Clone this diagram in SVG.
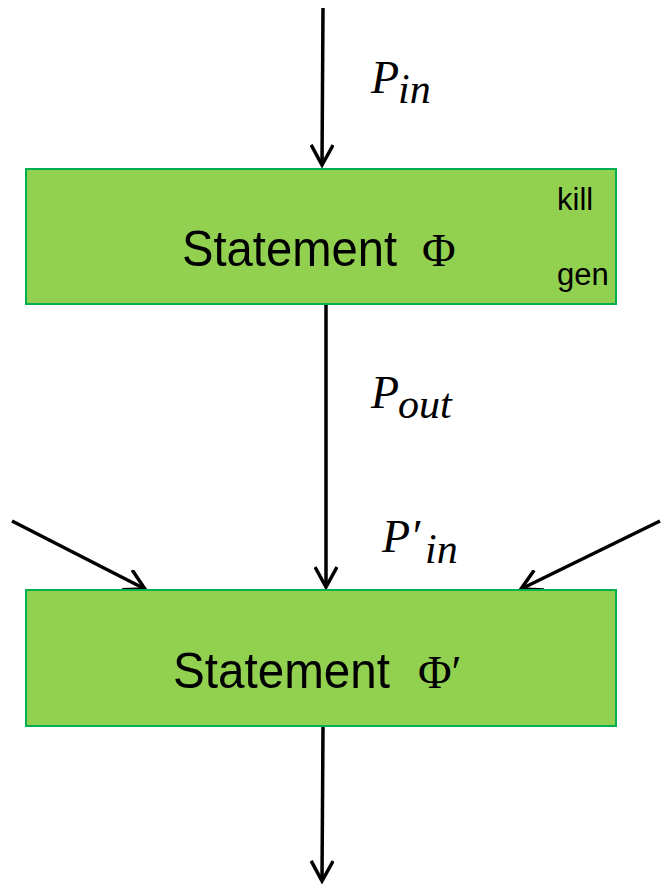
<svg xmlns="http://www.w3.org/2000/svg" width="662" height="885" viewBox="0 0 662 885">
<style>
.box{fill:#92D050;stroke:#00B050;stroke-width:2}
.main{font-family:"Liberation Sans",Arial,sans-serif;font-size:50px;fill:#000}
.phi{font-family:"Liberation Serif","Times New Roman",serif;font-size:46px;fill:#000}
.small{font-family:"Liberation Sans",Arial,sans-serif;font-size:31px;fill:#000}
.math{font-family:"Liberation Serif","Times New Roman",serif;font-style:italic;font-size:46px;fill:#000}
.sub{font-size:42px}
.conn{stroke:#000;stroke-width:3.5;fill:none}
</style>
<defs>
<marker id="arr" viewBox="0 0 24 24" refX="21" refY="12" markerWidth="24" markerHeight="24" markerUnits="userSpaceOnUse" orient="auto">
<path d="M1,1 L21,12 L1,23" fill="none" stroke="#000" stroke-width="3.5" stroke-linejoin="miter"/>
</marker>
</defs>
<g id="connectors">
<line class="conn" x1="323" y1="8" x2="322" y2="165" marker-end="url(#arr)"/>
<line class="conn" x1="326" y1="305" x2="326" y2="587" marker-end="url(#arr)"/>
<line class="conn" x1="12" y1="521" x2="145" y2="589" marker-end="url(#arr)"/>
<line class="conn" x1="660" y1="521" x2="521" y2="589" marker-end="url(#arr)"/>
<line class="conn" x1="323" y1="727" x2="322" y2="881" marker-end="url(#arr)"/>
</g>
<g id="node1">
<rect class="box" x="26" y="169" width="590" height="135"/>
<text class="main" x="182" y="266" textLength="215" lengthAdjust="spacingAndGlyphs">Statement</text>
<text class="phi" x="422" y="266">Φ</text>
<text class="small" x="557" y="210">kill</text>
<text class="small" x="557" y="285">gen</text>
</g>
<g id="node2">
<rect class="box" x="26" y="590" width="590" height="136"/>
<text class="main" x="173" y="688" textLength="217" lengthAdjust="spacingAndGlyphs">Statement</text>
<text class="phi" x="418" y="688">Φ′</text>
</g>
<g id="labels">
<text class="math" x="371" y="93">P<tspan class="sub" x="398" y="103">in</tspan></text>
<text class="math" x="371" y="408">P<tspan class="sub" x="398" y="418">out</tspan></text>
<text class="math" x="382" y="552">P′<tspan class="sub" x="425" y="563">in</tspan></text>
</g>
</svg>
